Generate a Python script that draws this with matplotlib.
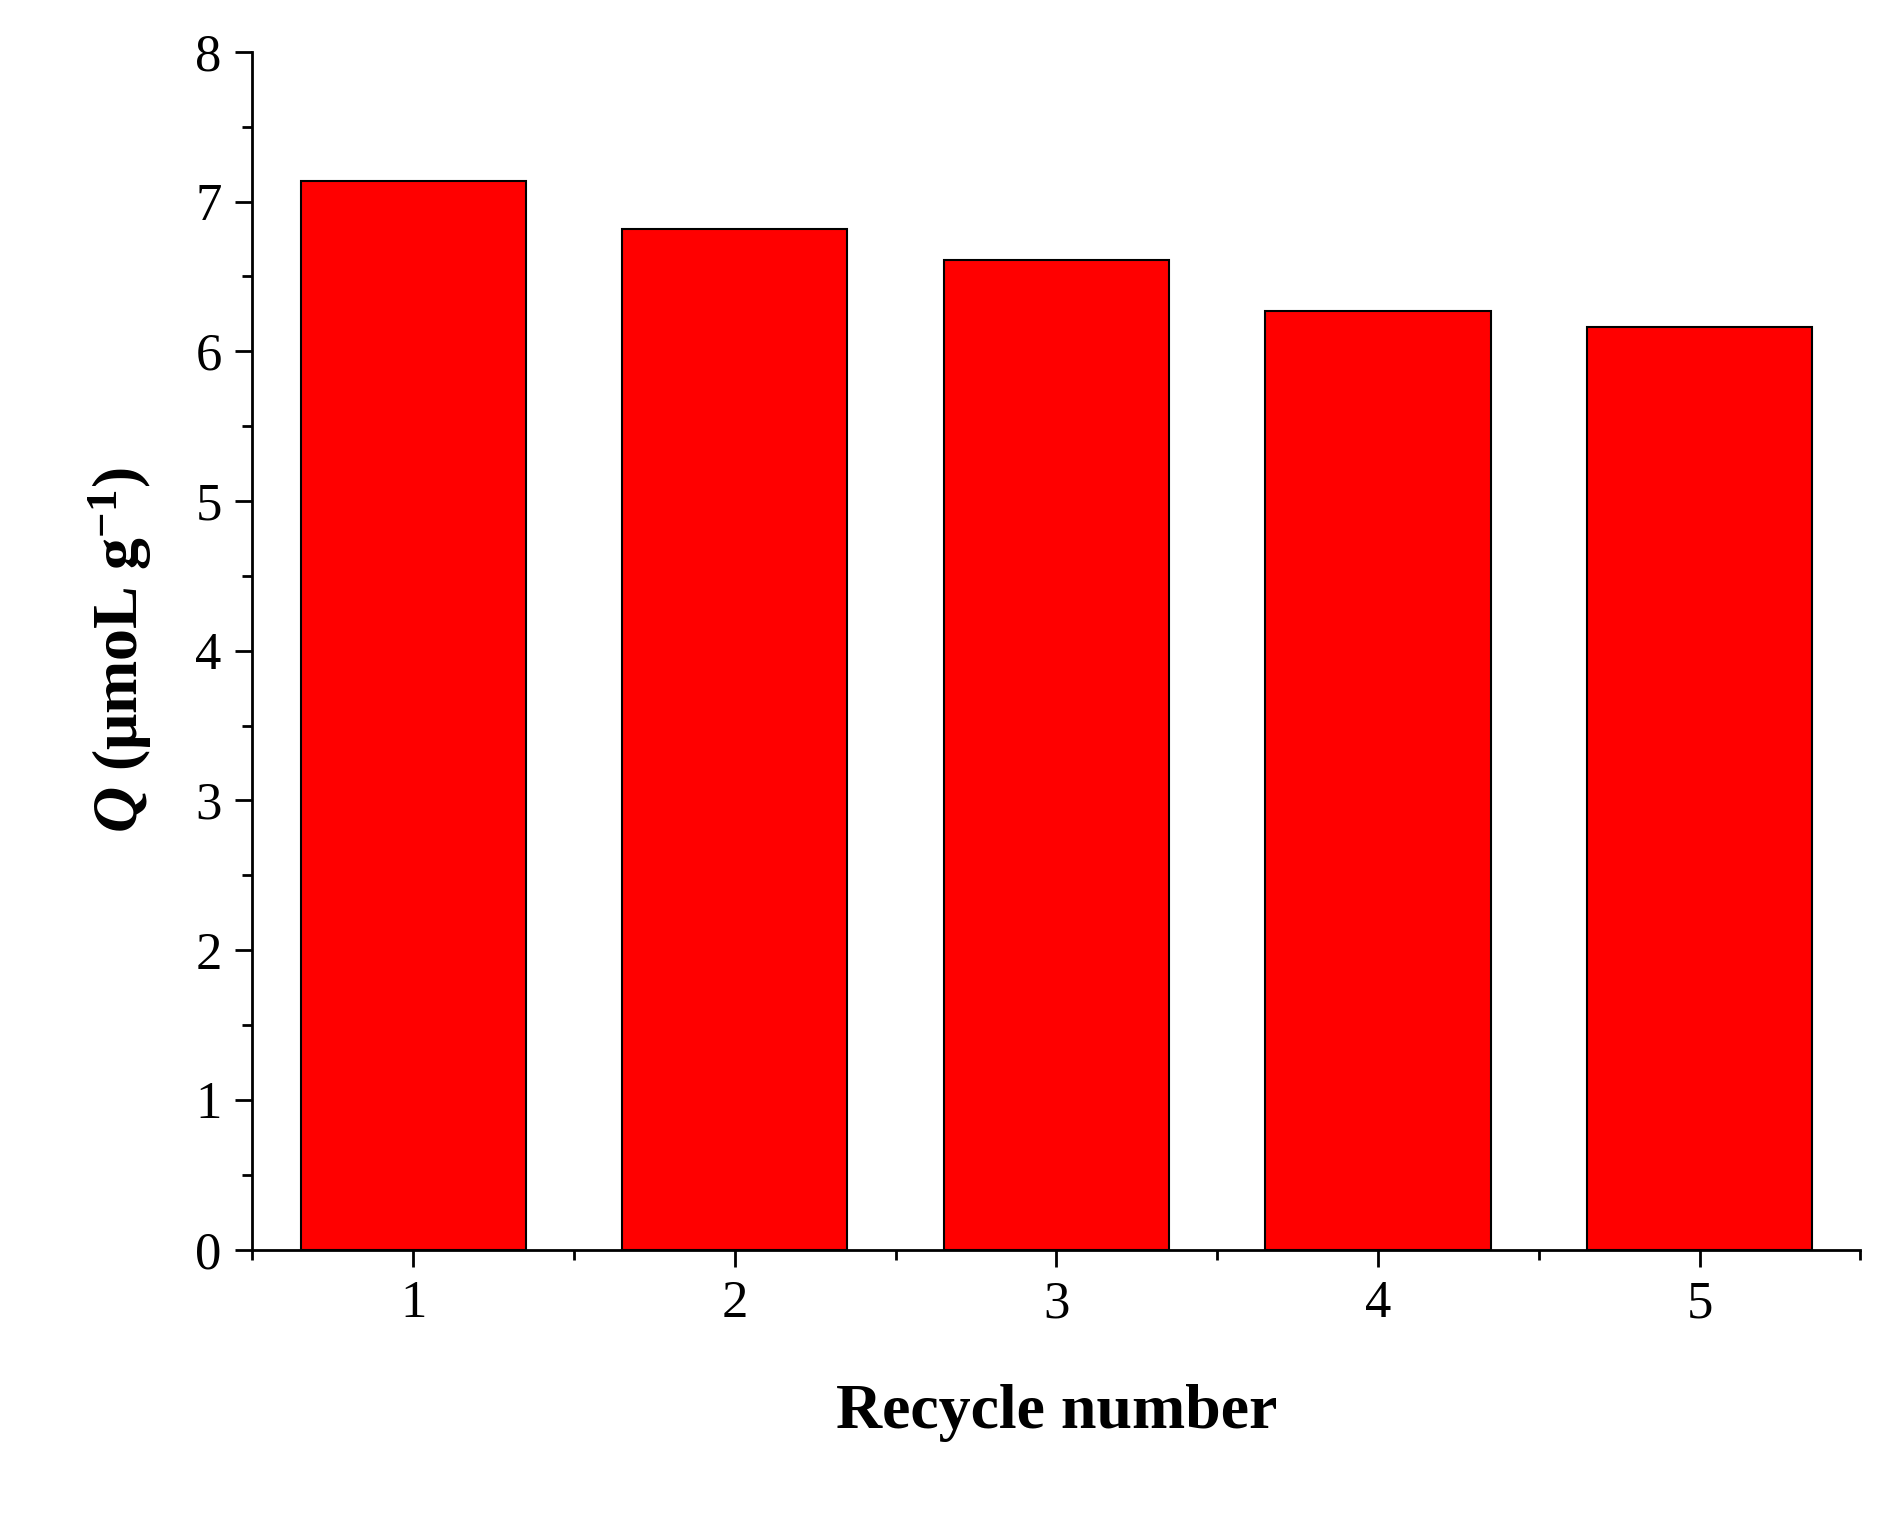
import matplotlib
matplotlib.use("Agg")
import matplotlib.pyplot as plt
from matplotlib.ticker import MultipleLocator

cycles = [1, 2, 3, 4, 5]
q_values = [7.14, 6.82, 6.61, 6.27, 6.16]

plt.rcParams["font.family"] = ["Liberation Serif", "DejaVu Serif"]
plt.rcParams["mathtext.fontset"] = "custom"
plt.rcParams["mathtext.it"] = "Liberation Serif:italic:bold"
plt.rcParams["mathtext.bf"] = "Liberation Serif:bold"
plt.rcParams["mathtext.rm"] = "Liberation Serif:bold"

fig = plt.figure(figsize=(18.83, 15.24), dpi=100)
ax = fig.add_axes([0.134, 0.180, 0.854, 0.786])
ax.bar(cycles, q_values, width=0.7, color="#ff0000", edgecolor="black", linewidth=1.5)

ax.set_xlim(0.5, 5.5)
ax.set_ylim(0, 8)
ax.set_xticks(cycles)
ax.xaxis.set_minor_locator(MultipleLocator(0.5))
ax.yaxis.set_major_locator(MultipleLocator(1))
ax.yaxis.set_minor_locator(MultipleLocator(0.5))
for s in ("top", "right"):
    ax.spines[s].set_visible(False)
for s in ("left", "bottom"):
    ax.spines[s].set_linewidth(2)
ax.tick_params(which="major", direction="out", length=12, width=2, labelsize=38, pad=10)
ax.tick_params(which="minor", direction="out", length=7, width=2)

ax.set_xlabel("Recycle number", fontsize=46, fontweight="bold", labelpad=40)
ax.set_ylabel(r"$\mathit{Q}$ (μmoL g$^{\mathbf{-1}}$)", fontsize=46, fontweight="bold", labelpad=30)

fig.savefig("out.png", dpi=100)
